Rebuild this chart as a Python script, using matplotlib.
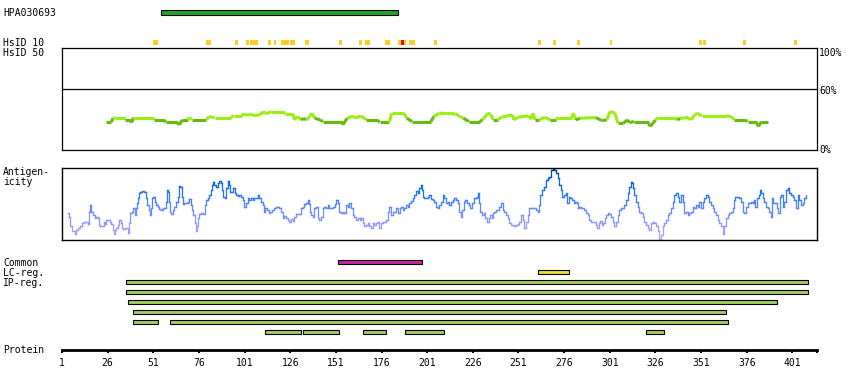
import matplotlib
matplotlib.use("Agg")
import matplotlib.pyplot as plt
import numpy as np
from matplotlib.collections import LineCollection
from matplotlib.colors import LinearSegmentedColormap

# ---------------- data ----------------
protein_length = 414.5
tick_values = [1, 26, 51, 76, 101, 126, 151, 176, 201, 226, 251, 276, 301, 326, 351, 376, 401]

antigen_name = "HPA030693"
antigen_start, antigen_end = 55, 185

hsid10_starts = [50.8, 79.9, 95.7, 101.8, 103.9, 113.8, 116.9, 120.9, 125.9, 134.1, 152.5, 163.5,
                 166.9, 177.9, 185.0, 188.3, 191.0, 204.6, 261.7, 269.9, 283.0, 301.1, 349.8, 352.0,
                 373.9, 401.9]
hsid10_ends = [53.4, 82.6, 97.2, 103.4, 108.2, 115.3, 118.2, 125.2, 128.6, 136.3, 154.2, 165.1,
               169.7, 180.6, 186.7, 189.4, 194.3, 206.4, 263.3, 271.5, 284.7, 302.1, 351.5, 353.7,
               375.6, 403.5]
hsid10_high_starts = [186.7]
hsid10_high_ends = [188.3]

hsid50_res = [25.3, 28.0, 28.9, 30.3, 35.0, 35.7, 38.0, 39.2, 40.1, 50.5, 51.5, 57.0, 57.9, 63.8,
              65.3, 66.8, 69.8, 70.7, 72.0, 80.1, 81.6, 84.6, 93.5, 95.0, 99.4, 100.9, 102.4,
              103.8, 106.2, 109.5, 111.3, 112.7, 115.7, 121.6, 123.1, 127.6, 128.2, 129.9, 132.0,
              133.5, 135.0, 136.5, 137.9, 139.4, 142.4, 143.9, 154.2, 154.8, 157.2, 160.2, 161.6,
              164.6, 166.1, 167.6, 173.5, 175.0, 180.3, 181.5, 188.3, 189.8, 192.8, 203.1, 204.6,
              207.6, 216.5, 218.9, 220.9, 223.9, 229.8, 231.3, 234.3, 235.7, 237.2, 239.6, 241.7,
              244.6, 247.6, 248.5, 250.6, 253.5, 256.5, 258.0, 258.9, 260.1, 262.4, 265.4, 268.4,
              271.3, 272.8, 280.2, 281.1, 282.3, 284.7, 293.5, 296.5, 299.5, 301.0, 303.9, 305.4,
              308.4, 310.7, 311.9, 314.3, 321.7, 323.2, 326.1, 327.6, 336.5, 338.0, 339.5, 343.9,
              345.4, 347.5, 349.0, 351.3, 364.7, 367.6, 369.1, 375.1, 376.5, 381.0, 382.5, 384.0,
              387.8]
hsid50_pct = [27.2, 27.2, 31.1, 31.8, 31.8, 29.5, 29.5, 26.9, 31.8, 31.8, 29.5, 29.5, 27.2, 27.2,
              24.6, 29.5, 29.5, 31.8, 29.5, 29.5, 32.8, 31.8, 31.8, 33.8, 33.8, 35.4, 33.8,
              35.4, 33.8, 34.5, 37.7, 35.4, 37.7, 37.7, 35.4, 35.4, 29.5, 32.8, 29.5,
              31.1, 29.5, 32.8, 36.1, 31.1, 29.5, 27.9, 27.9, 24.6, 31.1, 33.4, 31.1,
              33.4, 31.8, 29.5, 29.5, 27.2, 27.2, 36.1, 36.1, 31.1, 27.9, 27.9, 32.8,
              36.1, 35.4, 32.8, 31.1, 27.9, 27.9, 29.5, 36.1, 35.4, 29.5, 29.5, 32.1,
              33.4, 34.4, 29.5, 32.1, 32.8, 33.4, 30.2, 36.1, 29.5, 29.5, 32.1, 29.5,
              29.5, 31.8, 31.8, 36.1, 29.5, 31.1, 31.8, 28.9, 29.5, 37.7, 36.1, 26.2,
              26.2, 29.5, 26.9, 27.9, 27.9, 23.0, 29.5, 31.8, 31.8, 29.5, 31.1, 31.8,
              29.5, 34.4, 36.1, 33.4, 33.4, 32.8, 29.5, 29.5, 27.9, 27.9, 23.0, 27.9,
              27.9]

antigenicity_res = [
    4.3, 5.0, 6.1, 7.4, 8.3, 9.2, 10.5, 11.6, 12.5, 13.4, 14.7, 15.6, 16.1, 16.7, 17.4, 18.3, 19.3,
    20.2, 20.7, 21.4, 22.5, 23.6, 24.4, 24.9, 25.6, 26.6, 27.5, 28.4, 29.3, 29.7, 30.2, 31.1, 32.0,
    32.9, 33.5, 34.2, 34.9, 35.7, 36.6, 37.5, 38.0, 38.8, 39.7, 40.4, 41.2, 41.5, 42.2, 43.0, 43.3,
    44.4, 45.7, 46.6, 47.2, 48.1, 48.8, 49.4, 49.9, 50.6, 51.4, 52.1, 53.0, 53.9, 54.8, 55.8, 56.7,
    57.6, 58.1, 58.7, 59.0, 59.8, 60.5, 61.2, 62.1, 63.1, 64.0, 64.9, 65.6, 66.2, 66.7, 67.6, 68.5,
    69.4, 70.4, 71.1, 71.8, 72.5, 73.3, 74.0, 74.5, 75.1, 75.8, 76.7, 77.7, 78.6, 79.5, 80.4, 81.3,
    82.2, 82.8, 83.5, 84.0, 84.9, 85.9, 86.8, 87.7, 88.2, 89.0, 89.9, 90.4, 91.3, 92.3, 92.8, 93.5,
    94.4, 95.2, 95.9, 96.8, 97.7, 98.6, 99.6, 100.5, 101.4, 102.3, 103.2, 104.1, 105.0, 105.9,
    106.9, 107.8, 108.7, 109.6, 110.5, 111.4, 112.0, 112.7, 113.8, 114.5, 115.6, 116.9, 117.8,
    118.7, 119.6, 120.5, 121.5, 122.4, 123.3, 124.2, 125.1, 126.0, 126.9, 127.8, 128.8, 129.7,
    130.6, 131.5, 132.4, 133.3, 134.2, 135.1, 136.1, 136.4, 137.0, 137.9, 138.8, 139.7, 140.6,
    141.5, 142.5, 143.4, 144.3, 145.2, 146.1, 147.0, 147.9, 148.9, 149.8, 150.7, 151.6, 152.5,
    153.4, 154.3, 155.2, 156.2, 157.1, 158.0, 158.9, 159.8, 160.7, 161.6, 162.5, 163.5, 164.4,
    165.3, 166.2, 167.1, 168.0, 168.9, 169.8, 170.8, 171.7, 172.6, 173.5, 174.4, 175.3, 176.2,
    177.1, 178.1, 179.0, 179.9, 180.8, 181.7, 182.6, 183.5, 184.4, 185.4, 186.3, 187.2, 188.1,
    189.0, 189.9, 190.8, 191.7, 192.7, 193.6, 194.5, 195.4, 196.3, 197.2, 197.8, 198.5, 199.0,
    199.9, 200.9, 201.8, 202.7, 203.6, 204.5, 205.4, 206.3, 207.2, 208.2, 209.1, 210.0, 210.9,
    211.8, 212.7, 213.6, 214.5, 215.5, 216.4, 217.3, 218.2, 219.1, 219.7, 220.4, 221.5, 222.2,
    223.3, 224.2, 225.1, 226.0, 227.0, 227.9, 228.6, 229.2, 229.7, 230.6, 231.3, 232.4, 233.2,
    234.3, 235.0, 235.9, 236.8, 237.4, 238.3, 239.2, 240.1, 241.0, 241.9, 242.8, 243.7, 244.7,
    245.6, 246.5, 247.4, 248.3, 249.2, 250.1, 251.1, 252.0, 252.9, 253.8, 254.7, 255.6, 256.5,
    257.4, 258.4, 259.3, 260.2, 261.1, 262.0, 262.5, 263.4, 264.4, 265.3, 266.6, 267.5, 268.4,
    269.3, 270.2, 271.1, 272.0, 272.9, 273.9, 274.8, 275.3, 276.2, 277.5, 278.1, 278.8, 279.9,
    280.6, 281.7, 282.5, 283.2, 283.9, 284.8, 285.8, 286.7, 287.6, 288.5, 289.4, 290.3, 291.2,
    292.1, 293.1, 294.0, 294.5, 295.2, 296.3, 297.1, 297.8, 298.5, 299.4, 300.4, 301.3, 302.2,
    303.1, 304.0, 304.9, 305.8, 306.7, 307.7, 308.6, 309.5, 310.4, 311.3, 312.2, 312.8, 313.5,
    314.0, 315.0, 315.9, 316.8, 317.7, 318.6, 319.5, 320.4, 321.3, 322.3, 323.2, 324.1, 325.0,
    325.9, 326.8, 327.7, 328.6, 329.6, 330.5, 331.4, 332.3, 333.2, 334.1, 335.0, 335.9, 336.9,
    337.8, 338.7, 339.6, 340.5, 341.4, 342.3, 343.2, 344.2, 345.1, 346.0, 346.9, 347.8, 348.7,
    349.6, 350.5, 351.5, 352.4, 353.3, 354.2, 355.1, 356.0, 356.9, 357.8, 358.8, 359.7, 360.6,
    361.5, 362.4, 363.3, 364.2, 365.1, 366.1, 367.0, 367.9, 368.8, 369.3, 370.1, 371.5, 372.4,
    373.4, 374.3, 375.2, 376.1, 377.0, 377.9, 378.8, 379.7, 380.3, 381.2, 382.1, 383.0, 383.6,
    384.3, 385.2, 386.1, 387.0, 387.9, 388.9, 389.4, 390.1, 391.1, 392.0, 392.9, 393.8, 394.3,
    395.3, 396.2, 397.1, 398.0, 398.9, 399.8, 400.7, 401.6, 402.6, 403.5, 404.4, 405.3, 406.2,
    407.1, 408.0, 408.6]
antigenicity_score = [
    38, 32, 19, 12, 9, 14, 16, 19, 23, 25, 25, 22, 39, 48, 39, 35, 31,
    32, 30, 21, 19, 19, 25, 22, 28, 28, 25, 22, 14, 8, 14, 16, 21,
    28, 23, 17, 15, 17, 16, 10, 23, 37, 39, 44, 35, 44, 51, 58, 65,
    66, 68, 67, 58, 49, 42, 35, 45, 58, 60, 53, 49, 46, 43, 41, 44,
    45, 53, 69, 67, 53, 39, 36, 42, 46, 53, 60, 75, 73, 60, 50, 51,
    51, 53, 57, 49, 42, 35, 23, 13, 19, 30, 36, 37, 36, 49, 56, 59,
    63, 69, 76, 81, 76, 73, 79, 82, 79, 69, 60, 58, 72, 82, 76, 67,
    67, 72, 65, 63, 61, 62, 60, 56, 46, 51, 58, 56, 58, 56,
    59, 58, 63, 58, 53, 49, 39, 44, 42, 37, 39, 42, 44,
    46, 46, 44, 39, 30, 34, 31, 28, 25, 29, 26, 32, 36,
    36, 36, 44, 46, 50, 52, 56, 50, 39, 35, 32, 44, 46,
    30, 28, 32, 44, 46, 44, 49, 44, 45, 46, 50, 56, 51,
    39, 37, 39, 37, 49, 46, 51, 44, 35, 32, 28, 30, 28,
    30, 23, 19, 21, 23, 19, 16, 23, 21, 23, 25, 16, 23,
    25, 25, 28, 39, 46, 35, 39, 39, 44, 37, 44, 46, 42,
    45, 49, 46, 51, 54, 58, 63, 68, 65, 72, 76, 69, 60,
    59, 58, 60, 63, 57, 56, 53, 46, 44, 49, 53, 63, 58,
    51, 53, 49, 53, 56, 58, 56, 51, 39, 32, 42, 53, 56,
    51, 49, 44, 51, 58, 58, 60, 65, 51, 39, 35, 37, 30,
    25, 30, 35, 30, 37, 39, 42, 42, 46, 51, 42, 39, 35,
    30, 23, 21, 21, 19, 21, 22, 25, 35, 28, 17, 25, 35,
    44, 45, 44, 44, 42, 39, 49, 63, 69, 74, 83, 86, 88,
    97, 99, 97, 93, 86, 76, 69, 60, 63, 65, 51, 60, 58,
    56, 51, 53, 51, 44, 46, 44, 44, 42, 37, 35, 28, 25,
    25, 25, 21, 16, 23, 26, 21, 23, 30, 35, 37, 36, 32,
    25, 19, 25, 35, 42, 44, 45, 49, 56, 65, 74, 81, 79,
    72, 63, 53, 46, 39, 37, 32, 25, 21, 16, 14, 23, 25,
    23, 19, 12, 1, 7, 19, 23, 28, 35, 37, 44, 53, 63,
    65, 60, 53, 63, 53, 37, 39, 35, 37, 39, 46, 44, 49,
    46, 53, 44, 53, 58, 63, 60, 53, 49, 44, 39, 35, 28,
    23, 19, 8, 19, 30, 35, 37, 39, 44, 56, 60, 60, 58,
    53, 39, 37, 46, 51, 51, 53, 51, 56, 46, 58, 63, 69,
    65, 58, 53, 46, 44, 39, 32, 58, 51, 51, 44, 37, 60,
    63, 46, 53, 69, 72, 65, 63, 60, 56, 45, 63, 56, 49,
    51, 58, 63]

common_start, common_end = 152.3, 198.1
lcreg_start, lcreg_end = 261.9, 278.5
ipreg_row = [0, 1, 2, 3, 4, 4, 5, 5, 5, 5, 5]
ipreg_start = [36.2, 36.2, 37.3, 40.0, 40.0, 60.3, 112.3, 133.2, 166.0, 189.0, 321.0]
ipreg_end = [409.4, 409.4, 392.4, 364.5, 53.4, 365.6, 132.1, 152.5, 178.3, 210.0, 330.5]

# ---------------- layout helpers ----------------
W, H = 850, 390
fig = plt.figure(figsize=(W / 100, H / 100), dpi=100)
FONT = dict(family="DejaVu Sans Mono", fontsize=7, color="black")
X0, X1 = 62, 817
XLIM = (1, protein_length)


def add_ax(y0, y1, x0=X0, x1=X1):
    return fig.add_axes([x0 / W, 1 - y1 / H, (x1 - x0) / W, (y1 - y0) / H])


def ftext(x, y, s, **kw):
    d = dict(FONT)
    d.update(kw)
    fig.text(x / W, 1 - y / H, s, va="baseline", **d)


def strip(ax):
    ax.set_xlim(*XLIM)
    for sp in ax.spines.values():
        sp.set_visible(False)
    ax.set_xticks([])
    ax.set_yticks([])
    ax.patch.set_alpha(0)


def step_segments(xs, ys):
    """Turn a polyline into mid-step pieces (horizontal / vertical)."""
    xs = np.asarray(xs, float)
    ys = np.asarray(ys, float)
    segs, vals = [], []
    for i in range(len(xs) - 1):
        xm = (xs[i] + xs[i + 1]) / 2
        segs.append([(xs[i], ys[i]), (xm, ys[i])]); vals.append(ys[i])
        segs.append([(xm, ys[i]), (xm, ys[i + 1])]); vals.append((ys[i] + ys[i + 1]) / 2)
        segs.append([(xm, ys[i + 1]), (xs[i + 1], ys[i + 1])]); vals.append(ys[i + 1])
    return segs, np.array(vals)


# ---------------- top tracks (antigen + HsID 10) ----------------
ax_top = add_ax(0, 47)
strip(ax_top)
ax_top.set_ylim(47, 0)
ax_top.barh(12.5, antigen_end - antigen_start, left=antigen_start, height=4.4,
            color="#22a322", edgecolor="black", linewidth=0.8)
ax_top.barh([42.5] * len(hsid10_starts), np.array(hsid10_ends) - np.array(hsid10_starts),
            left=hsid10_starts, height=5, color="#ffcc22", linewidth=0)
ax_top.barh([42.5] * len(hsid10_high_starts),
            np.array(hsid10_high_ends) - np.array(hsid10_high_starts),
            left=hsid10_high_starts, height=5, color="#dd1100", linewidth=0)

# ---------------- HsID 50 panel ----------------
ax_hs = add_ax(48, 150)
ax_hs.set_xlim(*XLIM)
ax_hs.set_ylim(0, 100)
ax_hs.set_xticks([])
ax_hs.set_yticks([])
for sp in ax_hs.spines.values():
    sp.set_linewidth(0.9)
ax_hs.axhline(60, color="black", linewidth=0.9)
hx = np.array(hsid50_res)
hy = np.array(hsid50_pct)
segs = np.stack([np.column_stack([hx[:-1], hy[:-1]]), np.column_stack([hx[1:], hy[1:]])], axis=1)
mid = (hy[:-1] + hy[1:]) / 2
cols = ["#9aee14" if m >= 30.5 else "#66bb11" for m in mid]
ax_hs.add_collection(LineCollection(segs, colors=cols, linewidths=2.2, capstyle="butt"))

ftext(819, 56, "100%")
ftext(819, 94.5, "60%")
ftext(819, 153, "0%")

# ---------------- Antigenicity panel ----------------
ax_ag = add_ax(168, 240)
ax_ag.set_xlim(*XLIM)
ax_ag.set_ylim(0, 100)
ax_ag.set_xticks([])
ax_ag.set_yticks([])
for sp in ax_ag.spines.values():
    sp.set_linewidth(1.0)
asegs, avals = step_segments(antigenicity_res, antigenicity_score)
cmap = LinearSegmentedColormap.from_list(
    "ag", [(0.0, "#b4a8ff"), (0.3, "#8a92ff"), (0.5, "#4e84ff"), (0.7, "#1470f2"),
           (0.88, "#0058c8"), (1.0, "#003a80")])
lc = LineCollection(asegs, cmap=cmap, linewidths=0.9, capstyle="projecting")
lc.set_array(avals)
lc.set_clim(0, 100)
ax_ag.add_collection(lc)

# ---------------- bottom tracks ----------------
ax_bot = add_ax(255, 340)
strip(ax_bot)
ax_bot.set_ylim(340, 255)
ax_bot.barh(262.3, common_end - common_start, left=common_start, height=4,
            color="#cc22aa", edgecolor="black", linewidth=0.8)
ax_bot.barh(272.3, lcreg_end - lcreg_start, left=lcreg_start, height=4,
            color="#eedd33", edgecolor="black", linewidth=0.8)
rows_y = [282.3 + 10 * r for r in ipreg_row]
ax_bot.barh(rows_y, np.array(ipreg_end) - np.array(ipreg_start), left=ipreg_start, height=4,
            color="#a3cc62", edgecolor="black", linewidth=0.8)

# ---------------- protein axis ----------------
ax_p = add_ax(349.5, 349.6)
ax_p.set_xlim(*XLIM)
ax_p.set_ylim(0, 1)
for s in ["top", "left", "right"]:
    ax_p.spines[s].set_visible(False)
ax_p.spines["bottom"].set_linewidth(2.0)
ax_p.set_yticks([])
ax_p.set_xticks(tick_values + [protein_length])
ax_p.set_xticklabels([str(t) for t in tick_values] + [""], fontfamily="DejaVu Sans Mono",
                     fontsize=7)
ax_p.tick_params(axis="x", direction="out", length=2.5, width=1.4, pad=3.5)
ax_p.patch.set_alpha(0)

# ---------------- left labels ----------------
ftext(3, 16, antigen_name)
ftext(3, 45.5, "HsID 10")
ftext(3, 56, "HsID 50")
ftext(3, 175, "Antigen-")
ftext(3, 185, "icity")
ftext(3, 266, "Common")
ftext(3, 276, "LC-reg.")
ftext(3, 286, "IP-reg.")
ftext(3, 353, "Protein")

fig.savefig("out.png", dpi=100)
